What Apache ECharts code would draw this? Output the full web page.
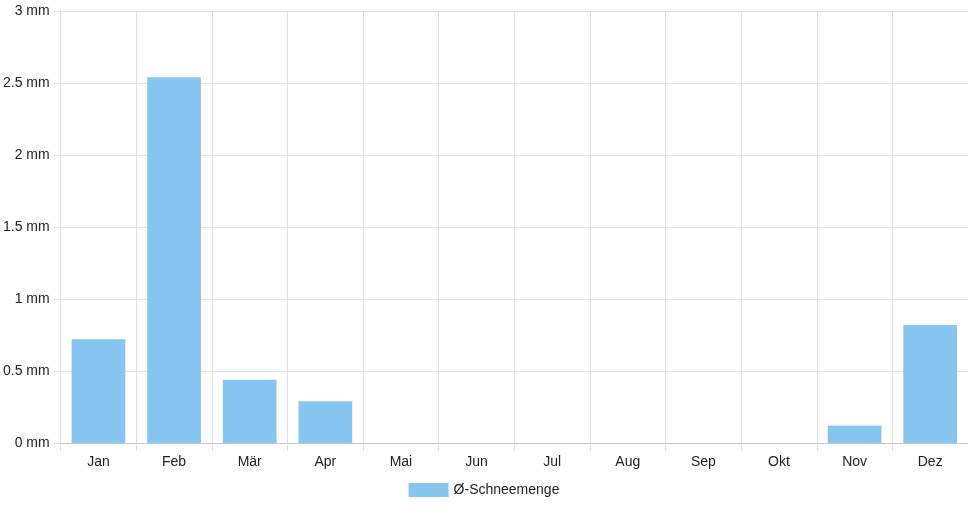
<!DOCTYPE html>
<html>
<head>
<meta charset="utf-8">
<script src="https://cdn.jsdelivr.net/npm/echarts@6/dist/echarts.min.js"></script>
<style>
  html, body { margin: 0; padding: 0; background: #fff; }
  #chart { width: 968px; height: 508px; }
</style>
</head>
<body>
<div id="chart"></div>
<script>
const months = ['Jan', 'Feb', 'Mär', 'Apr', 'Mai', 'Jun', 'Jul', 'Aug', 'Sep', 'Okt', 'Nov', 'Dez'];
const snow = [0.72, 2.54, 0.44, 0.29, 0, 0, 0, 0, 0, 0, 0.12, 0.82];
const seriesName = 'Ø-Schneemenge';

const ec = echarts.init(document.getElementById('chart'));
const font = 'Liberation Sans, Arial, sans-serif';

ec.setOption({
  animation: false,
  textStyle: { fontFamily: font },
  grid: { left: 60, right: 0, top: 11, bottom: 65 },
  legend: {
    bottom: 6,
    left: 'center',
    itemWidth: 40,
    itemHeight: 14,
    itemGap: 10,
    icon: 'rect',
    textStyle: { color: '#222', fontSize: 14, fontFamily: font, padding: [2, 0, 0, 0] },
    data: [seriesName]
  },
  xAxis: {
    type: 'category',
    data: months,
    boundaryGap: true,
    axisLine: { lineStyle: { color: '#c8c8c8' } },
    axisTick: { show: true, length: 8, lineStyle: { color: '#e0e0e0' } },
    splitLine: { show: true, lineStyle: { color: '#e0e0e0' } },
    axisLabel: { color: '#222', fontSize: 14, margin: 12 }
  },
  yAxis: {
    type: 'value',
    min: 0,
    max: 3,
    interval: 0.5,
    axisLine: { show: true, lineStyle: { color: '#e0e0e0' } },
    axisTick: { show: true, length: 7, lineStyle: { color: '#e0e0e0' } },
    splitLine: { lineStyle: { color: '#e0e0e0' } },
    axisLabel: {
      color: '#222',
      fontSize: 14,
      margin: 11,
      formatter: v => v + ' mm'
    }
  },
  series: [{
    name: seriesName,
    type: 'bar',
    data: snow,
    barCategoryGap: '29%',
    itemStyle: { color: '#87c5f1', borderWidth: 0 }
  }]
});
</script>
</body>
</html>
